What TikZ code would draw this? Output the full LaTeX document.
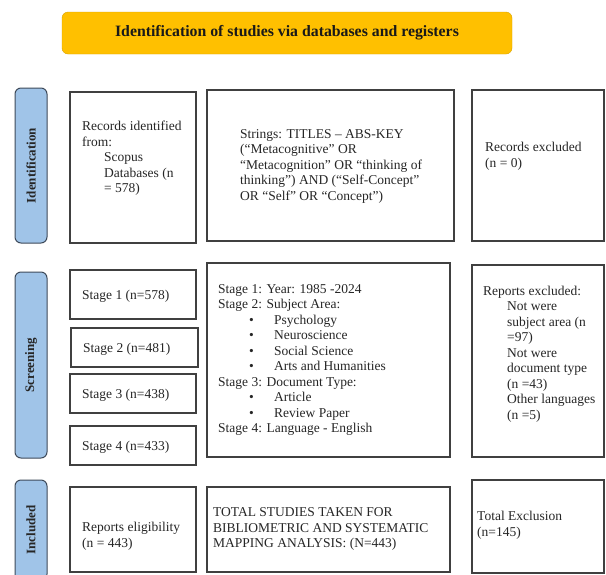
\documentclass[tikz,border=0pt]{standalone}
\usepackage{fontspec}
\setmainfont{Liberation Serif}

\definecolor{titlegold}{RGB}{255,192,0}
\definecolor{phaseblue}{RGB}{160,196,232}
\definecolor{phaseline}{RGB}{62,74,90}
\newcommand{\bodyfont}{\fontsize{13.5}{15.5}\selectfont}
\newcommand{\bul}{\hspace*{31pt}\makebox[25pt][l]{\textbullet}}

\tikzset{
  box/.style={draw=black!75, line width=1.2pt, inner sep=0pt},
  txt/.style={anchor=west, align=left, inner sep=0pt, font=\bodyfont, text=black!85},
  phase/.style={draw=phaseline, fill=phaseblue, line width=1pt, rounded corners=6pt,
    minimum height=32pt, inner sep=0pt, rotate=90,
    font=\fontsize{13}{15}\selectfont\bfseries, text=black!85},
}

\begin{document}
\begin{tikzpicture}[x=1pt,y=-1pt]
\useasboundingbox (0,0) rectangle (606,574);
\clip (0,0) rectangle (606,574);
\fill[white] (0,0) rectangle (606,574);

% header
\node[draw=titlegold!85!black, fill=titlegold, rounded corners=6pt, minimum width=450pt,
  minimum height=42pt, font=\fontsize{15.8}{18}\selectfont\bfseries, text=black!90]
  (title) at (287,33) {Identification of studies via databases and registers};

% phases
\node[phase, minimum width=155pt] (ident) at (31,165.5) {Identification};
\node[phase, minimum width=186pt] (screen) at (31,365) {Screening};
\node[phase, minimum width=100pt] (incl) at (31,530) {Included};

% identification row
\node[box, minimum width=126pt, minimum height=151pt] (recid) at (133,167.5) {};
\node[box, minimum width=247pt, minimum height=151pt] (strings) at (330.5,165.5) {};
\node[box, minimum width=132pt, minimum height=151pt] (recex) at (538,165.5) {};
\node[txt] (recidtxt) at (82,158.5) {Records identified\\from:\\\hspace*{22pt}Scopus\\\hspace*{22pt}Databases (n\\\hspace*{22pt}= 578)};
\node[txt] (stringstxt) at (240,166) {Strings: TITLES -- ABS-KEY\\(``Metacognitive'' OR\\``Metacognition'' OR ``thinking of\\thinking'') AND (``Self-Concept''\\OR ``Self'' OR ``Concept'')};
\node[txt] (recextxt) at (485,156) {Records excluded\\(n = 0)};

% screening row
\node[box, minimum width=126pt, minimum height=49pt] (stage1) at (133,294.5) {};
\node[box, minimum width=127pt, minimum height=39pt] (stage2) at (134.5,347.5) {};
\node[box, minimum width=126pt, minimum height=39pt] (stage3) at (133,393.5) {};
\node[box, minimum width=126pt, minimum height=39pt] (stage4) at (133,445.5) {};
\node[txt] (stage1txt) at (82,296) {Stage 1 (n=578)};
\node[txt] (stage2txt) at (83,349.5) {Stage 2 (n=481)};
\node[txt] (stage3txt) at (82,395.5) {Stage 3 (n=438)};
\node[txt] (stage4txt) at (82,447.5) {Stage 4 (n=433)};

\node[box, minimum width=243pt, minimum height=194pt] (criteria) at (328.5,360) {};
\node[txt] (criteriatxt) at (218,360) {Stage 1: Year: 1985 -2024\\Stage 2: Subject Area:\\\bul Psychology\\\bul Neuroscience\\\bul Social Science\\\bul Arts and Humanities\\Stage 3: Document Type:\\\bul Article\\\bul Review Paper\\Stage 4: Language - English};

\node[box, minimum width=132pt, minimum height=192pt] (repex) at (538,361) {};
\node[txt] (repextxt) at (483,354) {Reports excluded:\\\hspace*{24pt}Not were\\\hspace*{24pt}subject area (n\\\hspace*{24pt}=97)\\\hspace*{24pt}Not were\\\hspace*{24pt}document type\\\hspace*{24pt}(n =43)\\\hspace*{24pt}Other languages\\\hspace*{24pt}(n =5)};

% included row
\node[box, minimum width=126pt, minimum height=85pt] (elig) at (133,529.5) {};
\node[box, minimum width=243pt, minimum height=85pt] (total) at (328.5,529.5) {};
\node[box, minimum width=132pt, minimum height=93pt] (totex) at (538,526.5) {};
\node[txt] (eligtxt) at (82,536) {Reports eligibility\\(n = 443)};
\node[txt] (totaltxt) at (213,529) {TOTAL STUDIES TAKEN FOR\\BIBLIOMETRIC AND SYSTEMATIC\\MAPPING ANALYSIS: (N=443)};
\node[txt] (totextxt) at (477,525) {Total Exclusion\\(n=145)};
\end{tikzpicture}
\end{document}
